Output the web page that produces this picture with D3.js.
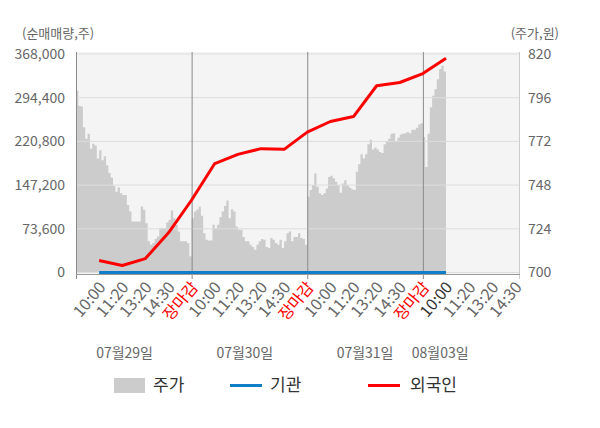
<!DOCTYPE html>
<html>
<head>
<meta charset="utf-8">
<script src="https://cdn.jsdelivr.net/npm/d3@7"></script>
<style>
  body { margin: 0; background: #fff; }
  text { font-family: "Noto Sans CJK KR", "Noto Sans", sans-serif; }
</style>
</head>
<body>
<svg width="600" height="428"></svg>
<script>
// x tick labels (one per slot, 5 slots per trading day)
var tickLabels = [
  "10:00", "11:20", "13:20", "14:30", "장마감",
  "10:00", "11:20", "13:20", "14:30", "장마감",
  "10:00", "11:20", "13:20", "14:30", "장마감",
  "10:00", "11:20", "13:20", "14:30"
];
var dayLabels = ["07월29일", "07월30일", "07월31일", "08월03일"];
var dayLabelAt = [2.1, 7.3, 12.5, 15.75];

var leftTicks = [0, 73600, 147200, 220800, 294400, 368000];
var rightTicks = [700, 724, 748, 772, 796, 820];

// 주가 (price), sampled every 0.1 slot from each day's open
var price1 = [799.8, 791.6, 791.1, 779.8, 773.5, 776.2, 768.0, 770.7, 769.8, 762.6,
  767.1, 761.6, 763.8, 758.9, 754.7, 752.2, 747.5, 744.4, 746.7, 743.5,
  742.5, 742.5, 737.1, 733.5, 728.0, 728.0, 728.0, 728.0, 736.2, 734.4,
  727.1, 717.1, 715.3, 716.2, 718.4, 719.8, 724.4, 724.4, 724.4, 727.5,
  728.9, 734.0, 729.8, 726.2, 722.5, 717.1, 717.1, 717.1, 716.2, 708.9];
var price2 = [729.8, 733.5, 734.4, 736.2, 731.1, 721.6, 718.0, 717.6, 717.6, 726.2,
  724.4, 726.2, 730.4, 733.5, 736.5, 739.5, 729.8, 734.7, 733.5, 725.3,
  723.5, 723.5, 719.5, 717.1, 717.1, 715.3, 714.0, 712.5, 715.3, 717.1,
  718.4, 718.0, 714.0, 713.5, 718.9, 718.0, 716.2, 715.3, 718.0, 713.5,
  717.1, 721.6, 722.5, 717.1, 719.5, 719.5, 721.6, 718.9, 718.4, 715.3];
var price3 = [741.6, 745.3, 748.0, 754.4, 747.1, 743.5, 742.5, 743.5, 746.2, 752.5,
  753.1, 751.7, 749.8, 748.0, 743.8, 748.9, 750.7, 748.0, 746.7, 745.7,
  745.3, 755.3, 759.5, 764.9, 762.6, 764.9, 770.4, 772.9, 767.5, 768.6,
  767.5, 766.2, 765.6, 770.4, 772.2, 773.5, 776.2, 776.5, 772.2, 774.0,
  775.8, 776.2, 776.5, 777.1, 776.5, 778.4, 778.4, 779.5, 781.3, 782.0];
var price4 = [774.4, 758.0, 776.2, 790.7, 797.1, 800.7, 806.2, 811.7, 813.5, 810.4, 809.9];

// 순매매량 at each tick (first 16 ticks)
var foreignVals = [20100, 11700, 23400, 66900, 122100, 183500, 199000, 208600,
  207400, 236400, 254300, 262600, 314500, 320000, 335000, 360800];
var instVals = [0, 0, 0, 0, 0, 0, 0, 0, 0, 0, 0, 0, 0, 0, 0, 0];

var svg = d3.select("svg");

var plot_left = 76;
var plot_right = 520;
var plot_top = 52;
var plot_bottom = 274;

var xScale = d3.scaleLinear().domain([0, 19.2]).range([plot_left, plot_right]);
var yLeft = d3.scaleLinear().domain([0, 368000]).range([272.5, 54]);
var yRight = d3.scaleLinear().domain([700, 820]).range([272.5, 54]);

var grey = "#666";

// plot background
svg.append("rect")
  .attr("x", plot_left).attr("y", plot_top)
  .attr("width", plot_right - plot_left).attr("height", plot_bottom - plot_top)
  .attr("fill", "#f4f4f4");

// price area
var pricePts = [];
[price1, price2, price3, price4].forEach(function(day, d) {
  day.forEach(function(v, k) { pricePts.push({x: 5 * d + 0.1 * k, y: v}); });
});

var area = d3.area()
  .x(d => xScale(d.x))
  .y0(yRight(700))
  .y1(d => yRight(d.y))
  .curve(d3.curveStepAfter);

svg.append("path")
  .attr("d", area(pricePts))
  .attr("fill", "#cccccc");

// grid lines
svg.append("g").selectAll("line")
  .data(leftTicks)
  .join("line")
  .attr("x1", plot_left).attr("x2", plot_right)
  .attr("y1", d => yLeft(d)).attr("y2", d => yLeft(d))
  .attr("stroke", "#dddddd")
  .attr("stroke-width", 1);

// day dividers and border ticks
var bounds = [0, 5, 10, 15];
svg.append("g").selectAll("line")
  .data(bounds)
  .join("line")
  .attr("x1", d => xScale(d) + 0.5).attr("x2", d => xScale(d) + 0.5)
  .attr("y1", plot_top).attr("y2", plot_bottom + 5)
  .attr("stroke", "#8a8a8a");

svg.append("line")
  .attr("x1", plot_right - 0.5).attr("x2", plot_right - 0.5)
  .attr("y1", plot_top).attr("y2", plot_bottom + 5)
  .attr("stroke", "#cccccc");

svg.append("line")
  .attr("x1", plot_left).attr("x2", plot_right)
  .attr("y1", plot_bottom + 0.5).attr("y2", plot_bottom + 0.5)
  .attr("stroke", "#999999");

// lines
var line = d3.line()
  .x((d, i) => xScale(i + 1))
  .y(d => yLeft(d));

svg.append("path")
  .attr("d", line(instVals))
  .attr("fill", "none")
  .attr("stroke", "#0f7dc8")
  .attr("stroke-width", 3);

svg.append("path")
  .attr("d", line(foreignVals))
  .attr("fill", "none")
  .attr("stroke", "#ff0000")
  .attr("stroke-width", 3)
  .attr("stroke-linejoin", "round");

// left axis
var leftAxis = svg.append("g")
  .attr("transform", "translate(" + plot_left + ",0)")
  .call(d3.axisLeft(yLeft).tickValues(leftTicks).tickSize(0).tickPadding(11)
    .tickFormat(d3.format(",")));
leftAxis.select(".domain").remove();
leftAxis.selectAll("text").attr("fill", grey).style("font-size", "14px")
  .style("font-family", '"Noto Sans CJK KR", "Noto Sans", sans-serif');

// right axis
var rightAxis = svg.append("g")
  .attr("transform", "translate(" + plot_right + ",0)")
  .call(d3.axisRight(yRight).tickValues(rightTicks).tickSize(0).tickPadding(8));
rightAxis.select(".domain").remove();
rightAxis.selectAll("text").attr("fill", grey).style("font-size", "14px")
  .style("font-family", '"Noto Sans CJK KR", "Noto Sans", sans-serif');

// axis titles
svg.append("text").attr("x", 22).attr("y", 38)
  .attr("fill", grey).style("font-size", "13px").text("(순매매량,주)");
svg.append("text").attr("x", 559).attr("y", 38).attr("text-anchor", "end")
  .attr("fill", grey).style("font-size", "13px").text("(주가,원)");

// x tick labels
svg.append("g").selectAll("text")
  .data(tickLabels)
  .join("text")
  .attr("transform", (d, i) => "translate(" + (xScale(i + 1) + 3) + "," + (plot_bottom + 10) + ") rotate(-50)")
  .attr("text-anchor", "end")
  .attr("dy", "0.35em")
  .attr("fill", (d, i) => d == "장마감" ? "#ff0000" : (i == 15 ? "#333" : grey))
  .style("font-size", "16px")
  .text(d => d);

// day labels
svg.append("g").selectAll("text")
  .data(dayLabels)
  .join("text")
  .attr("x", (d, i) => xScale(dayLabelAt[i]))
  .attr("y", 358)
  .attr("text-anchor", "middle")
  .attr("fill", grey)
  .style("font-size", "14px")
  .text(d => d);

// legend
var legend = svg.append("g");
legend.append("rect").attr("x", 114).attr("y", 378).attr("width", 31).attr("height", 15).attr("fill", "#cccccc");
legend.append("text").attr("x", 153).attr("y", 391).attr("fill", "#333").style("font-size", "17px").text("주가");
legend.append("line").attr("x1", 230).attr("x2", 262).attr("y1", 385.5).attr("y2", 385.5)
  .attr("stroke", "#0f7dc8").attr("stroke-width", 3);
legend.append("text").attr("x", 270).attr("y", 391).attr("fill", "#333").style("font-size", "17px").text("기관");
legend.append("line").attr("x1", 368).attr("x2", 400).attr("y1", 385.5).attr("y2", 385.5)
  .attr("stroke", "#ff0000").attr("stroke-width", 3);
legend.append("text").attr("x", 410).attr("y", 391).attr("fill", "#333").style("font-size", "17px").text("외국인");
</script>
</body>
</html>
